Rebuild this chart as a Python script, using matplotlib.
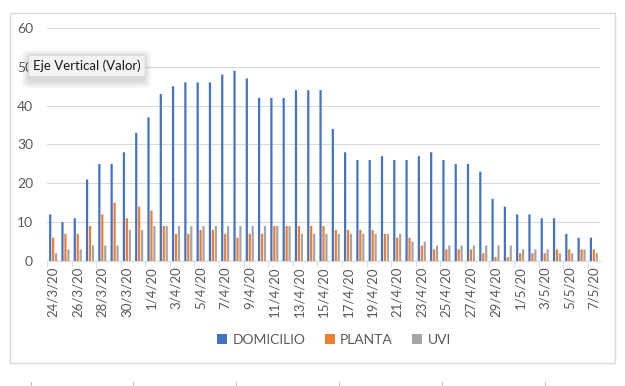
import matplotlib
matplotlib.use("Agg")
import matplotlib.pyplot as plt
import numpy as np
from matplotlib.patches import Rectangle, FancyBboxPatch
from matplotlib.lines import Line2D

plt.rcParams['font.family'] = ['Lato', 'DejaVu Sans']

dates = ["24/3/20", "25/3/20", "26/3/20", "27/3/20", "28/3/20", "29/3/20", "30/3/20", "31/3/20",
         "1/4/20", "2/4/20", "3/4/20", "4/4/20", "5/4/20", "6/4/20", "7/4/20", "8/4/20", "9/4/20",
         "10/4/20", "11/4/20", "12/4/20", "13/4/20", "14/4/20", "15/4/20", "16/4/20", "17/4/20",
         "18/4/20", "19/4/20", "20/4/20", "21/4/20", "22/4/20", "23/4/20", "24/4/20", "25/4/20",
         "26/4/20", "27/4/20", "28/4/20", "29/4/20", "30/4/20", "1/5/20", "2/5/20", "3/5/20",
         "4/5/20", "5/5/20", "6/5/20", "7/5/20"]
domicilio = [12, 10, 11, 21, 25, 25, 28, 33, 37, 43, 45, 46, 46, 46, 48, 49, 47, 42, 42, 42,
             44, 44, 44, 34, 28, 26, 26, 27, 26, 26, 27, 28, 26, 25, 25, 23, 16, 14, 12, 12,
             11, 11, 7, 6, 6]
planta = [6, 7, 7, 9, 12, 15, 11, 14, 13, 9, 7, 7, 8, 8, 7, 6, 7, 7, 9, 9,
          9, 9, 9, 8, 8, 8, 8, 7, 6, 6, 4, 3, 3, 3, 3, 2, 1, 1, 2, 2,
          2, 3, 3, 3, 3]
uvi = [2, 3, 3, 4, 4, 4, 8, 8, 9, 9, 9, 9, 9, 9, 9, 9, 9, 9, 9, 9,
       7, 7, 7, 7, 7, 7, 7, 7, 7, 5, 5, 4, 4, 4, 4, 4, 4, 4, 3, 3,
       3, 2, 2, 3, 2]
series_names = ["DOMICILIO", "PLANTA", "UVI"]
colors = ["#4472C4", "#ED7D31", "#A5A5A5"]
yticks = [0, 10, 20, 30, 40, 50, 60]

W, H = 625, 386
fig = plt.figure(figsize=(W / 100, H / 100), dpi=100)

# outer chart border
fig.patches.append(Rectangle((10 / W, 1 - 363 / H), 605 / W, 350 / H, transform=fig.transFigure,
                             fill=False, edgecolor="#D9D9D9", linewidth=1.0))
# small spreadsheet marks at bottom
for xp in [31, 133, 236, 339, 442, 545]:
    fig.lines.append(Line2D([xp / W, xp / W], [0, 4 / H], transform=fig.transFigure,
                            color="#BFBFBF", linewidth=0.8))

ax = fig.add_axes([47 / W, 1 - 261 / H, 553 / W, 233 / H])
x = np.arange(len(dates))
bw = 0.18
off = 0.24
for k, (vals, c, nm) in enumerate(zip([domicilio, planta, uvi], colors, series_names)):
    bars = ax.bar(x + (k - 1) * off, vals, width=bw, color=c, label=nm, zorder=3,
                  linewidth=0)
    for b in bars:
        b.set_snap(False)

ax.set_xlim(-0.5, len(dates) - 0.5)
ax.set_ylim(0, 60)
ax.set_yticks(yticks)
ax.set_yticklabels([str(v) for v in yticks], fontsize=10, color="#595959")
ax.grid(axis="y", color="#D9D9D9", linewidth=0.8, zorder=0)
ax.tick_params(axis="y", length=0, pad=10)
ax.set_xticks(x[::2])
ax.set_xticklabels(dates[::2], rotation=90, fontsize=9.5, color="#595959")
ax.tick_params(axis="x", length=0, pad=4)
ax.set_xticks(np.arange(-0.5, len(dates), 2), minor=True)
ax.tick_params(axis="x", which="minor", length=4, color="#D9D9D9")
for s in ["top", "right", "left"]:
    ax.spines[s].set_visible(False)
ax.spines["bottom"].set_color("#D9D9D9")

leg = fig.legend(loc="center", bbox_to_anchor=(334 / W, 1 - 340 / H), ncol=3, frameon=False,
                 fontsize=10, handlelength=0.7, handleheight=0.7, handletextpad=0.4,
                 columnspacing=1.4)
for t in leg.get_texts():
    t.set_color("#595959")

# tooltip shadow
for i, a in enumerate([0.05, 0.05, 0.05]):
    pad = (i + 1) * 2.5
    fig.patches.append(FancyBboxPatch(((28 - pad + 2) / W, 1 - (77 + pad + 3) / H),
                                      (113 + 2 * pad) / W, (22 + 2 * pad) / H,
                                      boxstyle="round,pad=0,rounding_size=0.01",
                                      transform=fig.transFigure, facecolor="black",
                                      edgecolor="none", alpha=a, zorder=9))
fig.text(33 / W, 1 - 66 / H, "Eje Vertical (Valor)", fontsize=9.5, color="#1A1A1A", va="center",
         ha="left", zorder=10,
         bbox=dict(boxstyle="round,pad=0.35,rounding_size=0.2", facecolor="#F2F2F2",
                   edgecolor="#D0D0D0", linewidth=0.6))

fig.savefig("out.png", dpi=100)
